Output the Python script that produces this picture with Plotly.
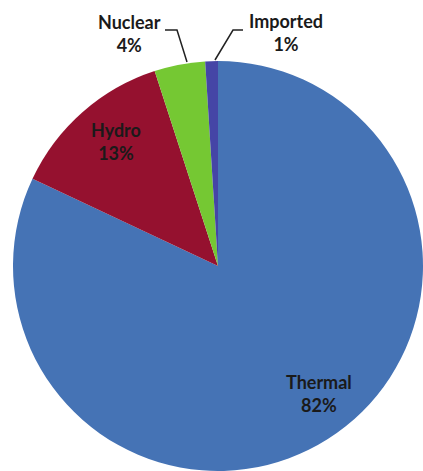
import plotly.graph_objects as go

# Electricity generation share by source (%)
sources = ["Thermal", "Hydro", "Nuclear", "Imported"]
shares = [82, 13, 4, 1]
colors = ["#4573B5", "#95112F", "#75C833", "#4545A6"]

W, H = 423, 471

fig = go.Figure(
    go.Pie(
        labels=sources,
        values=shares,
        sort=False,
        direction="clockwise",
        rotation=0,
        textinfo="none",
        hoverinfo="label+percent",
        marker=dict(colors=colors, line=dict(width=0)),
        domain=dict(x=[13 / W, 1], y=[0, (H - 61) / H]),
        showlegend=False,
    )
)


def px(x, y):
    """Pixel position -> paper coordinates."""
    return x / W, 1 - y / H


label_font = dict(family="Lato", size=18, color="#1a1a1a")

# Label centres (pixels) for each slice
label_pos = {
    "Thermal": (319, 393),
    "Hydro": (116, 142),
    "Nuclear": (129, 34),
    "Imported": (286, 33),
}

for name, val in zip(sources, shares):
    x, y = px(*label_pos[name])
    fig.add_annotation(
        x=x, y=y, xref="paper", yref="paper",
        text=f"<b>{name}</b><br><b>{val}%</b>",
        showarrow=False, xanchor="center", yanchor="middle",
        align="center", font=label_font,
    )

# Leader lines for the two small outside labels
leaders = [
    [(165, 30), (177, 30), (187, 62)],
    [(243, 30), (233, 30), (215, 60)],
]
for pts in leaders:
    path = "M " + " L ".join(f"{px(a, b)[0]:.5f},{px(a, b)[1]:.5f}" for a, b in pts)
    fig.add_shape(type="path", path=path, xref="paper", yref="paper",
                  line=dict(color="#222222", width=1.5))

fig.update_layout(
    width=W, height=H,
    margin=dict(l=0, r=0, t=0, b=0),
    paper_bgcolor="white",
    plot_bgcolor="white",
)

fig.write_html("out.html")
